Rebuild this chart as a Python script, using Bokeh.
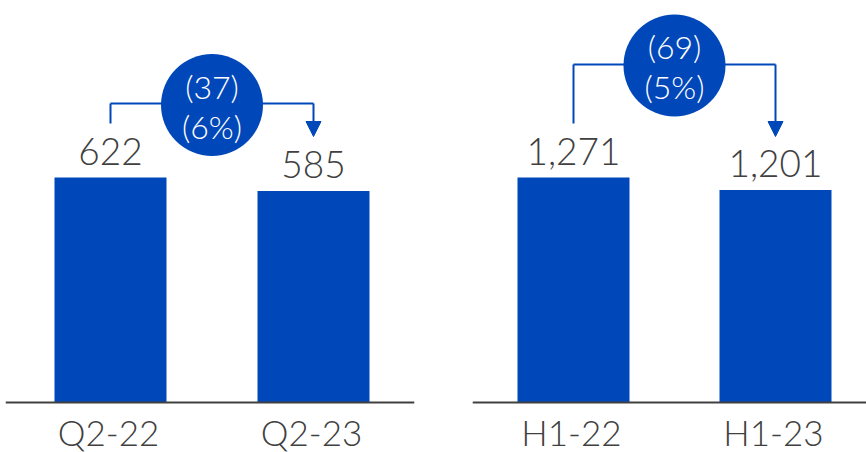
from bokeh.plotting import figure
from bokeh.models import ColumnDataSource, LabelSet, Range1d, Arrow, NormalHead, Span
from bokeh.layouts import row
from bokeh.core.properties import value
from bokeh.embed import file_html
from bokeh.resources import INLINE

# ---- data ----
left_categories = ["Q2-22", "Q2-23"]
left_values = [622, 585]
left_change = -37
left_change_pct = -6

right_categories = ["H1-22", "H1-23"]
right_values = [1271, 1201]
right_change = -69
right_change_pct = -5

BLUE = "#0048BA"
GREY = "#404040"
FONT = "Lato Light"
H = 452
BASE = 402  # px from top where value 0 sits


def fmt_val(v):
    return f"{v:,}"


def fmt_neg(v, suffix=""):
    return f"({abs(v)}{suffix})" if v < 0 else f"{v}{suffix}"


def make_panel(cats, vals, chg, pct, width, border_l, border_r, x_start, unit,
               bubble_px, bracket_px):
    frame_w = width - border_l - border_r
    x_end = x_start + frame_w / unit
    # first bar top at 177 px -> scale
    y_top = max(vals) * BASE / (BASE - 177)

    def py(px):
        return (BASE - px) / BASE * y_top

    p = figure(width=width, height=H, output_backend="svg", toolbar_location=None,
               x_range=Range1d(x_start, x_end), y_range=Range1d(py(H), y_top),
               x_axis_location=None, y_axis_location=None,
               min_border_left=border_l, min_border_right=border_r,
               min_border_top=0, min_border_bottom=0)
    p.outline_line_color = None
    p.grid.visible = False
    p.background_fill_color = "white"
    p.border_fill_color = "white"

    xs = [i + 0.5 for i in range(len(cats))]
    src = ColumnDataSource(dict(x=xs, top=vals, cat=cats,
                                lbl=[fmt_val(v) for v in vals],
                                zero=[0] * len(vals)))
    p.vbar(x="x", top="top", width=112 / unit, bottom=0, source=src,
           fill_color=BLUE, line_color=None)

    # baseline (category axis line)
    p.add_layout(Span(location=0, dimension="width", line_color=GREY, line_width=2))

    p.add_layout(LabelSet(x="x", y="top", text="lbl", source=src, y_offset=13,
                          text_align="center", text_baseline="alphabetic",
                          text_font=value(FONT), text_font_size="37px",
                          text_color=GREY))
    p.add_layout(LabelSet(x="x", y="zero", text="cat", source=src, y_offset=-43,
                          x_offset=-2,
                          text_align="center", text_baseline="alphabetic",
                          text_font=value(FONT), text_font_size="35px",
                          text_color=GREY))

    # bracket
    x0, x1 = xs[0], xs[1]
    xm = (x0 + x1) / 2
    yb = py(bracket_px)
    p.segment(x0=[x0, x0], y0=[py(123), yb], x1=[x0, x1], y1=[yb, yb],
              line_color=BLUE, line_width=2)
    p.add_layout(Arrow(x_start=x1, y_start=yb, x_end=x1, y_end=py(136),
                       line_color=BLUE, line_width=2,
                       end=NormalHead(size=15, fill_color=BLUE, line_color=BLUE)))

    # bubble
    yc = py(bubble_px)
    p.scatter(x=[xm], y=[yc], marker="circle", size=102,
              fill_color=BLUE, line_color=None)
    p.text(x=[xm, xm], y=[yc, yc], text=[fmt_neg(chg), fmt_neg(pct, "%")],
           y_offset=[-19, 21], text_align="center", text_baseline="middle",
           text_font=value(FONT), text_font_size="32px", text_color="white")
    return p


left = make_panel(left_categories, left_values, left_change, left_change_pct,
                  width=433, border_l=5, border_r=19, x_start=0.5 - 105 / 203,
                  unit=203, bubble_px=104.5, bracket_px=103)
right = make_panel(right_categories, right_values, right_change, right_change_pct,
                   width=433, border_l=39, border_r=0, x_start=0.5 - 101 / 202,
                   unit=202, bubble_px=65, bracket_px=64)

layout = row(left, right)
open("out.html", "w").write(file_html(layout, INLINE))
